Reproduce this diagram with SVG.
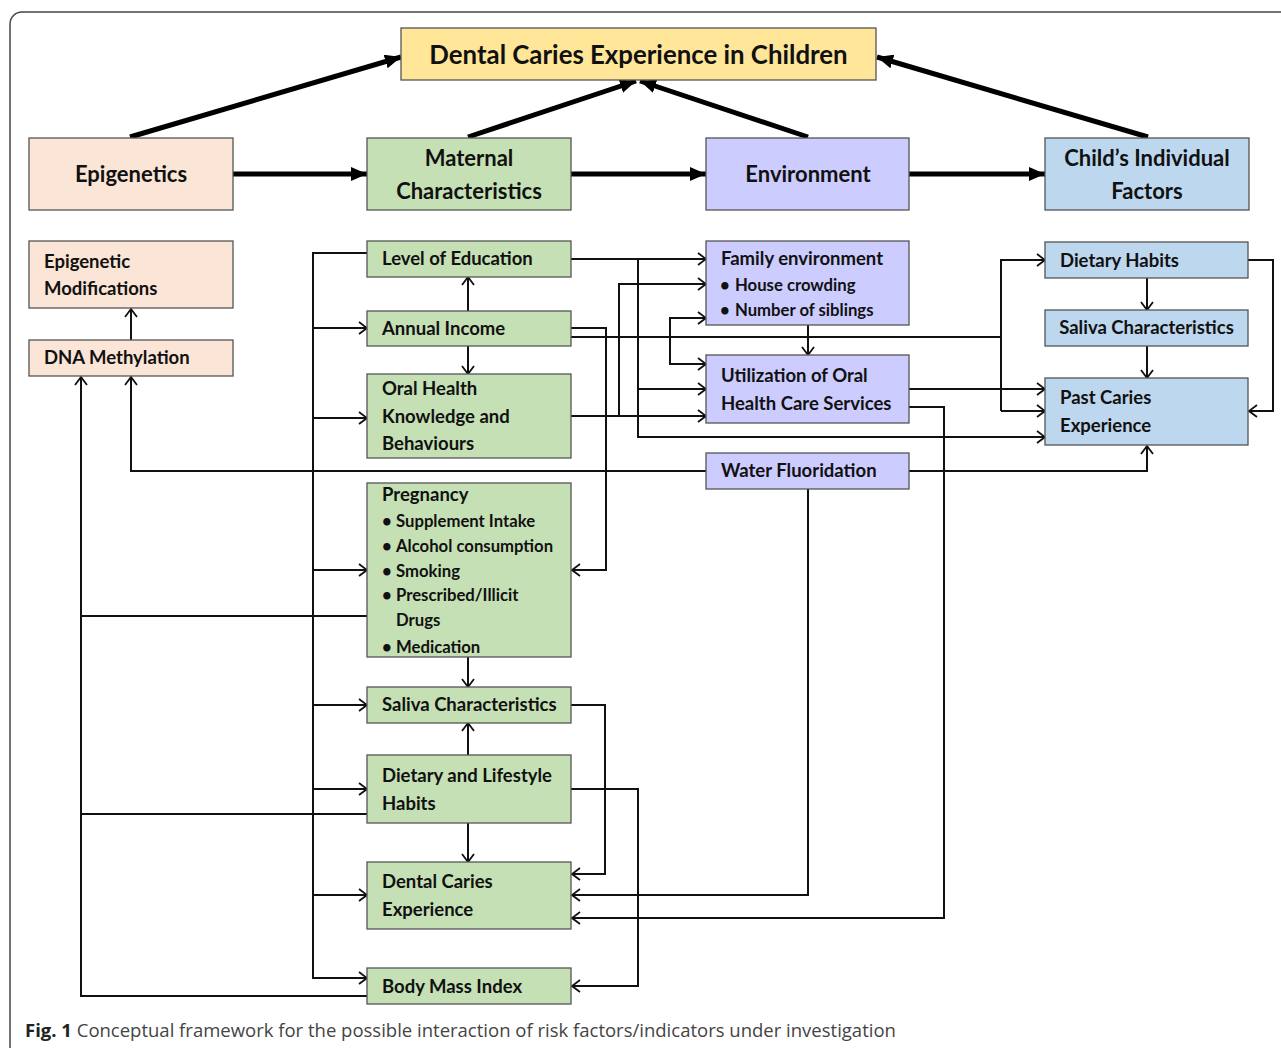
<svg xmlns="http://www.w3.org/2000/svg" width="1281" height="1048" viewBox="0 0 1281 1048">
<style>
.box{stroke:#555;stroke-width:1.3}
.y{fill:#FFE699}.p{fill:#FBE5D6}.g{fill:#C5E0B4}.v{fill:#CCCCFF}.b{fill:#BDD7EE}
text{font-family:Lato,"Open Sans","Liberation Sans",sans-serif;font-weight:bold;fill:#111}
.t1{font-size:25.8px}.t2{font-size:22px}.t3{font-size:18.5px}.t4{font-size:16.7px}
.c{text-anchor:middle}
.thin{fill:none;stroke:#111;stroke-width:2}
.thick{fill:none;stroke:#000;stroke-width:5}
.cap{font-family:"Open Sans","Liberation Sans",sans-serif;font-size:18.5px;font-weight:normal;fill:#444}
</style>
<defs>
<marker id="ao" viewBox="0 0 10 14" refX="9" refY="7" markerWidth="10" markerHeight="14" markerUnits="userSpaceOnUse" orient="auto"><path d="M1,1 L9,7 L1,13" fill="none" stroke="#111" stroke-width="1.8"/></marker>
<marker id="af" viewBox="0 0 16 14" refX="16" refY="7" markerWidth="16" markerHeight="14" markerUnits="userSpaceOnUse" orient="auto"><path d="M0,0 L16,7 L0,14 z" fill="#000"/></marker>
</defs>
<rect x="10" y="12" width="1290" height="1060" rx="12" fill="#fff" stroke="#444" stroke-width="1.5"/>

<g id="connectors">
<g class="thick" marker-end="url(#af)">
<path d="M233,174 H367"/><path d="M571,174 H706"/><path d="M909,174 H1045"/>
<path d="M130,137 L401,57"/><path d="M468,137 L636,81"/><path d="M808,137 L640,81"/><path d="M1148,137 L877,57"/>
</g>
<g class="thin">
<path d="M367,253 H313 V978 H367" marker-end="url(#ao)"/>
<path d="M313,328 H367" marker-end="url(#ao)"/>
<path d="M313,418 H367" marker-end="url(#ao)"/>
<path d="M313,570 H367" marker-end="url(#ao)"/>
<path d="M313,705 H367" marker-end="url(#ao)"/>
<path d="M313,789 H367" marker-end="url(#ao)"/>
<path d="M313,895 H367" marker-end="url(#ao)"/>
<path d="M468,311 V277" marker-end="url(#ao)"/>
<path d="M468,346 V374" marker-end="url(#ao)"/>
<path d="M131,340 V309" marker-end="url(#ao)"/>
<path d="M706,471 H131 V377" marker-end="url(#ao)"/>
<path d="M367,996 H81 V377" marker-end="url(#ao)"/>
<path d="M367,616 H81"/>
<path d="M367,814 H81"/>
<path d="M571,259 H706" marker-end="url(#ao)"/>
<path d="M638,259 V437 H1045" marker-end="url(#ao)"/>
<path d="M638,389 H706" marker-end="url(#ao)"/>
<path d="M571,328 H606 V570 H572" marker-end="url(#ao)"/>
<path d="M571,337 H1001"/>
<path d="M1001,411 V260 H1045" marker-end="url(#ao)"/>
<path d="M1001,411 H1045" marker-end="url(#ao)"/>
<path d="M706,318 H670 V364 H706" marker-end="url(#ao)"/>
<path d="M670,318 H706" marker-end="url(#ao)"/>
<path d="M571,416 H706" marker-end="url(#ao)"/>
<path d="M619,416 V284 H706" marker-end="url(#ao)"/>
<path d="M808,325 V355" marker-end="url(#ao)"/>
<path d="M909,389 H1045" marker-end="url(#ao)"/>
<path d="M909,407 H944 V918 H572" marker-end="url(#ao)"/>
<path d="M909,471 H1147 V446" marker-end="url(#ao)"/>
<path d="M808,489 V895 H572" marker-end="url(#ao)"/>
<path d="M1147,278 V310" marker-end="url(#ao)"/>
<path d="M1147,346 V378" marker-end="url(#ao)"/>
<path d="M1248,260 H1273 V411 H1249" marker-end="url(#ao)"/>
<path d="M468,657 V687" marker-end="url(#ao)"/>
<path d="M468,755 V723" marker-end="url(#ao)"/>
<path d="M468,823 V862" marker-end="url(#ao)"/>
<path d="M571,705 H605 V874 H572" marker-end="url(#ao)"/>
<path d="M571,789 H638 V986 H572" marker-end="url(#ao)"/>
</g>
</g>

<g id="n-title"><rect class="box y" x="401" y="28" width="475" height="52"/><text class="t1 c" x="638.5" y="64">Dental Caries Experience in Children</text></g>
<g id="n-epigenetics"><rect class="box p" x="29" y="138" width="204" height="72"/><text class="t2 c" x="131" y="182">Epigenetics</text></g>
<g id="n-maternal"><rect class="box g" x="367" y="138" width="204" height="72"/><text class="t2 c" x="469" y="166">Maternal</text><text class="t2 c" x="469" y="199">Characteristics</text></g>
<g id="n-environment"><rect class="box v" x="706" y="138" width="203" height="72"/><text class="t2 c" x="808" y="182">Environment</text></g>
<g id="n-child"><rect class="box b" x="1045" y="138" width="204" height="72"/><text class="t2 c" x="1147" y="166">Child’s Individual</text><text class="t2 c" x="1147" y="199">Factors</text></g>

<g id="n-epimod"><rect class="box p" x="29" y="241" width="204" height="67"/><text class="t3" x="44" y="268">Epigenetic</text><text class="t3" x="44" y="295">Modifications</text></g>
<g id="n-dna"><rect class="box p" x="29" y="340" width="204" height="36"/><text class="t3" x="44" y="364">DNA Methylation</text></g>

<g id="n-education"><rect class="box g" x="367" y="241" width="204" height="36"/><text class="t3" x="382" y="265">Level of Education</text></g>
<g id="n-income"><rect class="box g" x="367" y="311" width="204" height="35"/><text class="t3" x="382" y="335">Annual Income</text></g>
<g id="n-oralhealth"><rect class="box g" x="367" y="374" width="204" height="84"/><text class="t3" x="382" y="395">Oral Health</text><text class="t3" x="382" y="423">Knowledge and</text><text class="t3" x="382" y="450">Behaviours</text></g>
<g id="n-pregnancy"><rect class="box g" x="367" y="483" width="204" height="174"/>
<text class="t3" x="382" y="501">Pregnancy</text>
<text class="t4" x="382" y="527">•</text><text class="t4" x="396" y="527">Supplement Intake</text>
<text class="t4" x="382" y="552">•</text><text class="t4" x="396" y="552">Alcohol consumption</text>
<text class="t4" x="382" y="577">•</text><text class="t4" x="396" y="577">Smoking</text>
<text class="t4" x="382" y="601">•</text><text class="t4" x="396" y="601">Prescribed/Illicit</text>
<text class="t4" x="396" y="626">Drugs</text>
<text class="t4" x="382" y="653">•</text><text class="t4" x="396" y="653">Medication</text></g>
<g id="n-saliva-m"><rect class="box g" x="367" y="687" width="204" height="36"/><text class="t3" x="382" y="711">Saliva Characteristics</text></g>
<g id="n-dietary-m"><rect class="box g" x="367" y="755" width="204" height="68"/><text class="t3" x="382" y="782">Dietary and Lifestyle</text><text class="t3" x="382" y="810">Habits</text></g>
<g id="n-dce-m"><rect class="box g" x="367" y="862" width="204" height="67"/><text class="t3" x="382" y="888">Dental Caries</text><text class="t3" x="382" y="916">Experience</text></g>
<g id="n-bmi"><rect class="box g" x="367" y="968" width="204" height="36"/><text class="t3" x="382" y="993">Body Mass Index</text></g>

<g id="n-family"><rect class="box v" x="706" y="241" width="203" height="84"/><text class="t3" x="721" y="265">Family environment</text>
<text class="t4" x="720" y="291">•</text><text class="t4" x="735" y="291">House crowding</text>
<text class="t4" x="720" y="316">•</text><text class="t4" x="735" y="316">Number of siblings</text></g>
<g id="n-utilization"><rect class="box v" x="706" y="355" width="203" height="68"/><text class="t3" x="721" y="382">Utilization of Oral</text><text class="t3" x="721" y="410">Health Care Services</text></g>
<g id="n-water"><rect class="box v" x="706" y="453" width="203" height="36"/><text class="t3" x="721" y="477">Water Fluoridation</text></g>

<g id="n-dietary-c"><rect class="box b" x="1045" y="242" width="203" height="36"/><text class="t3" x="1060" y="267">Dietary Habits</text></g>
<g id="n-saliva-c"><rect class="box b" x="1045" y="310" width="203" height="36"/><text class="t3 c" x="1146.5" y="334">Saliva Characteristics</text></g>
<g id="n-pastcaries"><rect class="box b" x="1045" y="378" width="203" height="67"/><text class="t3" x="1060" y="404">Past Caries</text><text class="t3" x="1060" y="432">Experience</text></g>

<text class="cap" x="25" y="1037"><tspan font-weight="bold" fill="#222">Fig. 1</tspan> Conceptual framework for the possible interaction of risk factors/indicators under investigation</text>
</svg>
